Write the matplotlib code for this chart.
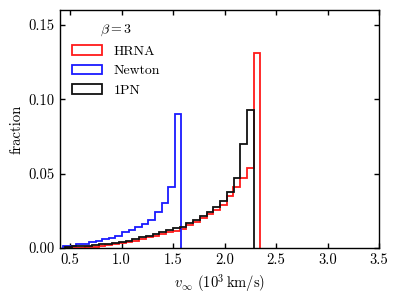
""" velocity distribution histograms for beta = 3 """
import numpy as np
import matplotlib
matplotlib.use("Agg")
import matplotlib.pyplot as plt

plt.rcParams['font.family'] = 'cmr10'
plt.rcParams['mathtext.fontset'] = 'cm'
plt.rcParams['axes.formatter.use_mathtext'] = True
plt.rcParams['font.size'] = 10.5

# bin ranges (10^3 km/s) and fraction per bin, left to right
# HRNA and 1PN share the same bin width, HRNA has one bin more
hrna_range = (0.45, 2.348)
hrna = [0.0002, 0.0002, 0.0002, 0.0004, 0.0006, 0.0012, 0.0017, 0.0024,
        0.0031, 0.0038, 0.0049, 0.0060, 0.0072, 0.0083, 0.0094, 0.0105,
        0.0116, 0.0130, 0.0154, 0.0177, 0.0200, 0.0226, 0.0255, 0.0290,
        0.0350, 0.0410, 0.0470, 0.0540, 0.1310]

newton_range = (0.428, 1.581)
newton = [0.0015, 0.0015, 0.0027, 0.0027, 0.0038, 0.0049, 0.0060, 0.0070,
          0.0083, 0.0105, 0.0120, 0.0139, 0.0161, 0.0188, 0.0244, 0.0300,
          0.0410, 0.0900]

pn1_range = (0.45, 2.283)
pn1 = [0.0008, 0.0010, 0.0010, 0.0013, 0.0018, 0.0024, 0.0029, 0.0033,
       0.0038, 0.0049, 0.0060, 0.0072, 0.0083, 0.0094, 0.0110, 0.0120,
       0.0132, 0.0143, 0.0168, 0.0188, 0.0217, 0.0240, 0.0275, 0.0313,
       0.0378, 0.0470, 0.0696, 0.0930]

series = [("HRNA", hrna_range, hrna, "#ff1a1a"),
          ("Newton", newton_range, newton, "#1a1aff"),
          ("1PN", pn1_range, pn1, "#111111")]

fig = plt.figure(figsize=(3.99, 2.98), dpi=100)
ax = fig.add_axes([0.150, 0.168, 0.800, 0.798])

for name, rng, vals, col in series:
    edges = np.linspace(rng[0], rng[1], len(vals) + 1)
    ax.hist(edges[:-1], bins=edges, weights=vals, histtype='step',
            color=col, lw=1.3, label=name)

ax.set_xlim(0.4, 3.5)
ax.set_ylim(0, 0.16)
ax.set_xticks(np.arange(0.5, 3.51, 0.5))
ax.set_yticks(np.arange(0, 0.151, 0.05))
ax.xaxis.set_major_formatter(matplotlib.ticker.FormatStrFormatter('%.1f'))
ax.yaxis.set_major_formatter(matplotlib.ticker.FormatStrFormatter('%.2f'))
ax.tick_params(direction='in', top=True, right=True, length=3.5, width=1)
for sp in ax.spines.values():
    sp.set_linewidth(1)

ax.set_xlabel(r'$v_\infty$ ($10^3\,$km/s)')
ax.set_ylabel('fraction')

ax.legend(loc='upper left', title=r'$\beta = 3$', frameon=False,
          handlelength=2.15, handletextpad=0.8, fontsize=10,
          title_fontsize=10)

fig.savefig('out.png', dpi=100)
